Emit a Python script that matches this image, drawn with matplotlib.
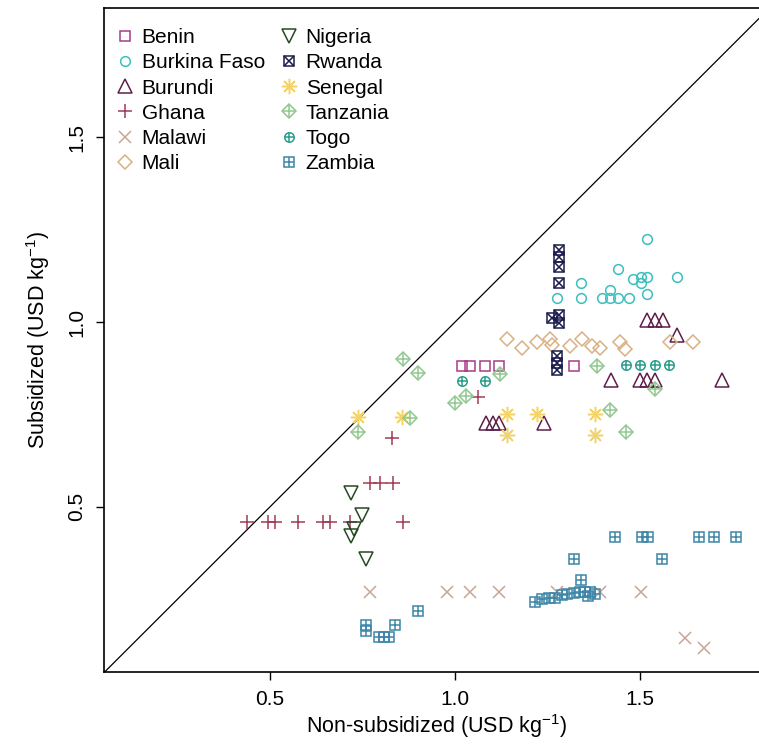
import matplotlib
matplotlib.use('Agg')
import matplotlib.pyplot as plt
from matplotlib.lines import Line2D
from matplotlib.legend_handler import HandlerTuple

plt.rcParams['font.family'] = ['Liberation Sans', 'DejaVu Sans']
plt.rcParams['mathtext.fontset'] = 'custom'
plt.rcParams['mathtext.rm'] = 'Liberation Sans'
plt.rcParams['mathtext.it'] = 'Liberation Sans'

# prices (USD per kg): non-subsidized (x) vs subsidized (y)
benin_x = [1.018, 1.041, 1.080, 1.119, 1.321]
benin_y = [0.882, 0.882, 0.882, 0.882, 0.882]

burkina_x = [1.276, 1.341, 1.341, 1.397, 1.419, 1.419, 1.441, 1.441, 1.470, 1.481,
             1.503, 1.519, 1.503, 1.519, 1.519, 1.600]
burkina_y = [1.066, 1.106, 1.066, 1.066, 1.087, 1.066, 1.066, 1.144, 1.066, 1.117,
             1.122, 1.122, 1.106, 1.077, 1.225, 1.122]

burundi_x = [1.519, 1.541, 1.562, 1.600, 1.422, 1.500, 1.519, 1.541, 1.722,
             1.084, 1.103, 1.119, 1.241]
burundi_y = [1.006, 1.006, 1.006, 0.966, 0.844, 0.844, 0.844, 0.844, 0.844,
             0.727, 0.727, 0.727, 0.727]

ghana_x = [0.437, 0.495, 0.514, 0.576, 0.644, 0.662, 0.716, 0.860,
           0.770, 0.797, 0.833, 0.829, 1.063]
ghana_y = [0.458, 0.458, 0.458, 0.458, 0.458, 0.458, 0.458, 0.458,
           0.563, 0.563, 0.563, 0.685, 0.798]

malawi_x = [0.771, 0.978, 1.041, 1.120, 1.276, 1.393, 1.503, 1.622, 1.672]
malawi_y = [0.268, 0.268, 0.268, 0.268, 0.268, 0.268, 0.268, 0.146, 0.119]

mali_x = [1.141, 1.181, 1.222, 1.257, 1.262, 1.311, 1.343, 1.370, 1.392, 1.446,
          1.459, 1.581, 1.643]
mali_y = [0.953, 0.931, 0.947, 0.953, 0.939, 0.934, 0.953, 0.934, 0.931, 0.945,
          0.928, 0.945, 0.945]

nigeria_x = [0.718, 0.749, 0.727, 0.718, 0.759]
nigeria_y = [0.536, 0.479, 0.439, 0.420, 0.358]

rwanda_x = [1.281, 1.281, 1.281, 1.281, 1.281, 1.261, 1.281, 1.275, 1.275, 1.275]
rwanda_y = [1.195, 1.177, 1.150, 1.105, 1.020, 1.011, 0.997, 0.907, 0.889, 0.869]

senegal_x = [0.738, 0.857, 1.141, 1.141, 1.222, 1.378, 1.378]
senegal_y = [0.742, 0.742, 0.752, 0.695, 0.752, 0.752, 0.695]

tanzania_x = [0.859, 0.900, 0.738, 0.878, 1.000, 1.030, 1.122, 1.384, 1.419, 1.462, 1.541]
tanzania_y = [0.901, 0.863, 0.701, 0.741, 0.782, 0.801, 0.858, 0.880, 0.763, 0.701, 0.818]

togo_x = [1.019, 1.081, 1.462, 1.500, 1.541, 1.578]
togo_y = [0.841, 0.841, 0.885, 0.885, 0.885, 0.885]

zambia_x = [1.431, 1.504, 1.522, 1.659, 1.699, 1.759, 1.322, 1.559, 1.341,
            1.217, 1.235, 1.253, 1.271, 1.289, 1.303, 1.321, 1.339, 1.352, 1.366,
            1.379, 1.358, 0.900, 0.760, 0.760, 0.794, 0.807, 0.821, 0.839]
zambia_y = [0.418, 0.418, 0.418, 0.418, 0.418, 0.418, 0.359, 0.359, 0.301,
            0.241, 0.250, 0.252, 0.254, 0.260, 0.263, 0.266, 0.269, 0.268, 0.270,
            0.265, 0.258, 0.218, 0.179, 0.164, 0.148, 0.148, 0.148, 0.179]

countries = ['Benin', 'Burkina Faso', 'Burundi', 'Ghana', 'Malawi', 'Mali',
             'Nigeria', 'Rwanda', 'Senegal', 'Tanzania', 'Togo', 'Zambia']
xs = [benin_x, burkina_x, burundi_x, ghana_x, malawi_x, mali_x,
      nigeria_x, rwanda_x, senegal_x, tanzania_x, togo_x, zambia_x]
ys = [benin_y, burkina_y, burundi_y, ghana_y, malawi_y, mali_y,
      nigeria_y, rwanda_y, senegal_y, tanzania_y, togo_y, zambia_y]
colors = ['#A83A86', '#3CBFC0', '#5C1F4A', '#A03A56', '#C9A596', '#D9B184',
          '#254A22', '#1B1B4D', '#F3D46A', '#91C88F', '#2A9D8C', '#3D86A8']
# R pch 0..12 style symbols, built from one or two matplotlib markers
symbols = [[('s', 7)], [('o', 7)], [('^', 10)], [('+', 10.5)], [('x', 8.5)],
           [('D', 7.5)], [('v', 10)], [('s', 7), ('x', 7)], [((8, 2, 0), 11)],
           [('D', 7.5), ('+', 10.6)], [('o', 6.8), ('+', 6.8)], [('s', 7), ('+', 7)]]

fig = plt.figure(figsize=(7.59, 7.44), dpi=100)
ax = fig.add_axes([104.3 / 759, 71.7 / 744, 664.9 / 759, 664 / 744])

lim = (0.052, 1.849)
ax.plot(lim, lim, color='black', lw=0.9, zorder=1)

handles = []
for name, x, y, c, sym in zip(countries, xs, ys, colors, symbols):
    parts = []
    for m, ms in sym:
        ax.plot(x, y, linestyle='none', marker=m, ms=ms, mfc='none', mec=c, mew=1.1, zorder=3)
        parts.append(Line2D([], [], linestyle='none', marker=m, ms=ms, mfc='none', mec=c, mew=1.1))
    handles.append(tuple(parts))

ax.set_xlim(lim)
ax.set_ylim(lim)
ax.set_xticks([0.5, 1.0, 1.5])
ax.set_xticklabels(['0.5', '1.0', '1.5'])
ax.set_yticks([0.5, 1.0, 1.5])
ax.set_yticklabels(['0.5', '1.0', '1.5'], rotation=90, va='center')
ax.tick_params(length=6, width=1.0, labelsize=15, pad=7, colors='black')
for sp in ax.spines.values():
    sp.set_linewidth(1.2)
    sp.set_color('black')

ax.set_xlabel(r'Non-subsidized (USD kg$^{-1}$)', fontsize=15.5, labelpad=2)
ax.set_ylabel(r'Subsidized (USD kg$^{-1}$)', fontsize=15.5, labelpad=11)

ax.legend(handles, countries, ncol=2, frameon=False, fontsize=15,
          handler_map={tuple: HandlerTuple(ndivide=1)},
          loc='upper left', bbox_to_anchor=(116.7 / 759, 1 - 28 / 744),
          bbox_transform=fig.transFigure, borderpad=0, borderaxespad=0,
          handlelength=0.8, handletextpad=0.4, columnspacing=0.75, labelspacing=0.3)

fig.savefig('out.png', dpi=100)
